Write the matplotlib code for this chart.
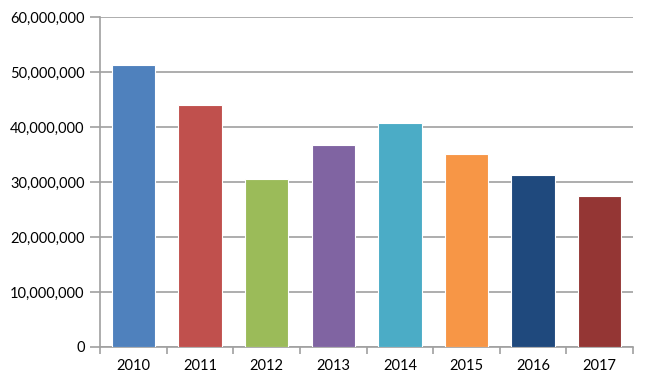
import matplotlib
matplotlib.use("Agg")
import matplotlib.pyplot as plt
from matplotlib.ticker import FuncFormatter, FixedLocator
import numpy as np

years = ["2010", "2011", "2012", "2013", "2014", "2015", "2016", "2017"]
values = [51_300_000, 44_000_000, 30_500_000, 36_700_000,
          40_700_000, 35_100_000, 31_200_000, 27_500_000]
colors = ["#4F81BD", "#C0504D", "#9BBB59", "#8064A2",
          "#4BACC6", "#F79646", "#1F497D", "#943634"]

plt.rcParams["font.family"] = ["Lato", "DejaVu Sans"]

fig = plt.figure(figsize=(6.5, 3.87), dpi=100)
ax = fig.add_axes([0.1538, 0.1034, 0.8202, 0.8527])

x = np.arange(len(years))
ax.bar(x, values, width=0.65, color=colors, edgecolor="#ffffff", linewidth=0.8, zorder=3)

ax.set_xlim(-0.5, len(years) - 0.5)
ax.set_ylim(0, 60_000_000)
ax.set_yticks(np.arange(0, 60_000_001, 10_000_000))
ax.yaxis.set_major_formatter(FuncFormatter(lambda v, p: f"{int(v):,}"))
ax.yaxis.grid(True, color="#a0a0a0", linewidth=1.2, zorder=0)

ax.set_xticks(x)
ax.set_xticklabels(years)
ax.xaxis.set_minor_locator(FixedLocator(np.arange(-0.5, len(years), 1.0)))
ax.tick_params(axis="x", which="major", length=0, pad=9, labelsize=10.5)
ax.tick_params(axis="x", which="minor", length=5, color="#a0a0a0", width=1.2)
ax.tick_params(axis="y", length=7, color="#a0a0a0", width=1.2, labelsize=10.5, pad=4)

for side in ("top", "right"):
    ax.spines[side].set_visible(False)
for side in ("left", "bottom"):
    ax.spines[side].set_color("#a0a0a0")
    ax.spines[side].set_linewidth(1.2)

fig.savefig("out.png", dpi=100)
